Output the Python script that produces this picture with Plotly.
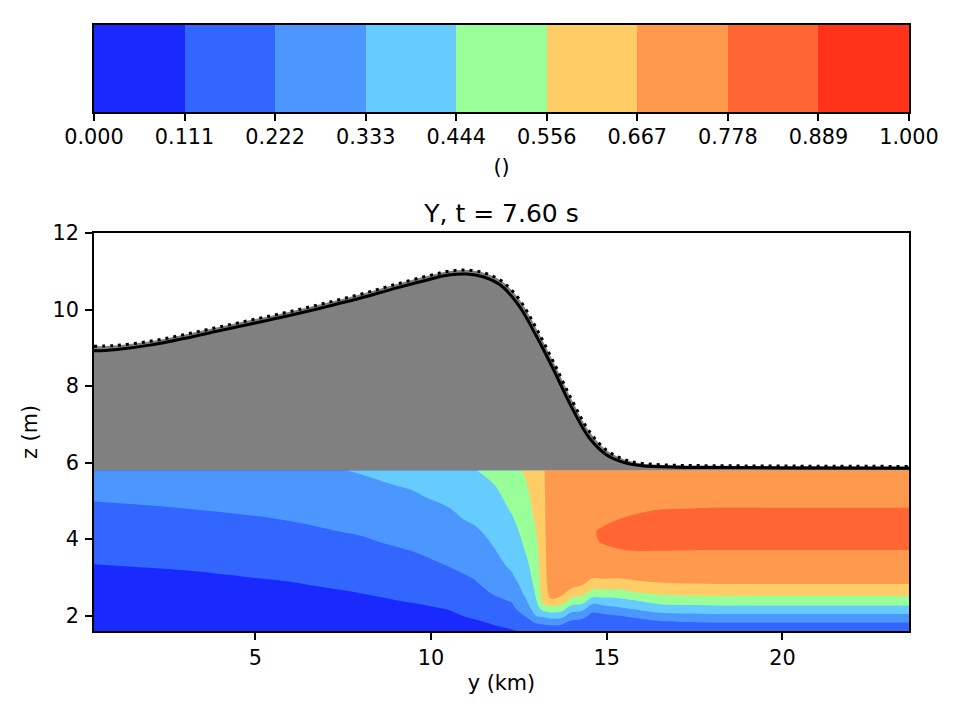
import numpy as np
import plotly.graph_objects as go

# ---------------- data ----------------
levels = [0, 1/9, 2/9, 3/9, 4/9, 5/9, 6/9, 7/9, 8/9, 1.0]
tick_text = ["0.000", "0.111", "0.222", "0.333", "0.444",
             "0.556", "0.667", "0.778", "0.889", "1.000"]
band_colors = ["#1a2aff", "#3366ff", "#4b97ff", "#66ccff", "#99ff99",
               "#ffcc66", "#ff994d", "#ff6633", "#ff331a"]
colorbar_label = "()"

# horizontal positions (km) of sampled columns of the field
grid_y = [0.41, 3, 6, 8, 9.5, 10.5, 11.2, 11.8, 12.3, 12.7, 13.0, 13.2, 13.4,
          13.7, 14.0, 14.3, 14.6, 14.9, 15.3, 15.8, 16.5, 18, 20, 23.6]
# heights (m) of sampled rows
grid_z = [1.6, 1.8, 2.0, 2.2, 2.4, 2.6, 2.8, 3.0, 3.3, 3.6, 3.9, 4.2, 4.5,
          4.8, 5.1, 5.4, 5.8]

# field values, one list per column (bottom -> top)
col_00 = [0.00, 0.01, 0.02, 0.035, 0.05, 0.06, 0.075, 0.09, 0.108, 0.128, 0.148, 0.170, 0.190, 0.210, 0.230, 0.250, 0.277]
col_01 = [0.00, 0.015, 0.03, 0.045, 0.06, 0.075, 0.088, 0.10, 0.118, 0.136, 0.156, 0.176, 0.200, 0.222, 0.243, 0.263, 0.29]
col_02 = [0.01, 0.03, 0.05, 0.065, 0.08, 0.093, 0.106, 0.118, 0.136, 0.156, 0.178, 0.200, 0.224, 0.248, 0.270, 0.290, 0.315]
col_03 = [0.02, 0.045, 0.065, 0.08, 0.097, 0.112, 0.125, 0.138, 0.158, 0.180, 0.206, 0.232, 0.258, 0.282, 0.302, 0.320, 0.338]
col_04 = [0.04, 0.065, 0.085, 0.10, 0.117, 0.133, 0.148, 0.163, 0.188, 0.215, 0.245, 0.272, 0.295, 0.312, 0.325, 0.34, 0.37]
col_05 = [0.06, 0.08, 0.10, 0.115, 0.135, 0.155, 0.175, 0.197, 0.224, 0.25, 0.275, 0.295, 0.313, 0.331, 0.35, 0.375, 0.41]
col_06 = [0.085, 0.10, 0.12, 0.14, 0.162, 0.184, 0.205, 0.225, 0.248, 0.27, 0.292, 0.315, 0.345, 0.37, 0.392, 0.412, 0.437]
col_07 = [0.10, 0.115, 0.135, 0.165, 0.203, 0.232, 0.255, 0.275, 0.30, 0.322, 0.342, 0.362, 0.382, 0.40, 0.42, 0.442, 0.48]
col_08 = [0.105, 0.135, 0.17, 0.205, 0.23, 0.255, 0.282, 0.318, 0.35, 0.37, 0.39, 0.41, 0.433, 0.456, 0.475, 0.495, 0.52]
col_09 = [0.12, 0.17, 0.23, 0.28, 0.325, 0.36, 0.38, 0.395, 0.418, 0.444, 0.462, 0.48, 0.497, 0.515, 0.53, 0.547, 0.57]
col_10 = [0.15, 0.225, 0.34, 0.40, 0.444, 0.46, 0.475, 0.49, 0.505, 0.522, 0.54, 0.557, 0.573, 0.587, 0.60, 0.61, 0.625]
col_11 = [0.16, 0.232, 0.355, 0.50, 0.60, 0.62, 0.63, 0.635, 0.638, 0.64, 0.642, 0.644, 0.646, 0.648, 0.65, 0.652, 0.655]
col_12 = [0.16, 0.245, 0.39, 0.52, 0.66, 0.69, 0.70, 0.705, 0.71, 0.715, 0.72, 0.722, 0.724, 0.725, 0.726, 0.727, 0.728]
col_13 = [0.16, 0.24, 0.38, 0.50, 0.62, 0.70, 0.72, 0.73, 0.735, 0.74, 0.745, 0.748, 0.748, 0.745, 0.74, 0.735, 0.73]
col_14 = [0.13, 0.19, 0.28, 0.40, 0.52, 0.62, 0.70, 0.735, 0.75, 0.76, 0.765, 0.768, 0.765, 0.76, 0.75, 0.74, 0.73]
col_15 = [0.14, 0.17, 0.26, 0.38, 0.50, 0.59, 0.667, 0.72, 0.755, 0.77, 0.775, 0.775, 0.772, 0.765, 0.755, 0.745, 0.735]
col_16 = [0.12, 0.135, 0.19, 0.27, 0.39, 0.52, 0.60, 0.675, 0.735, 0.765, 0.776, 0.776, 0.77, 0.762, 0.752, 0.743, 0.735]
col_17 = [0.12, 0.14, 0.20, 0.30, 0.40, 0.52, 0.60, 0.68, 0.74, 0.77, 0.7785, 0.781, 0.774, 0.765, 0.752, 0.743, 0.735]
col_18 = [0.12, 0.15, 0.22, 0.32, 0.41, 0.52, 0.60, 0.675, 0.74, 0.77, 0.785, 0.79, 0.778, 0.765, 0.752, 0.743, 0.735]
col_19 = [0.12, 0.16, 0.25, 0.355, 0.444, 0.55, 0.625, 0.69, 0.745, 0.772, 0.79, 0.795, 0.785, 0.77, 0.755, 0.745, 0.735]
col_20 = [0.125, 0.19, 0.29, 0.40, 0.49, 0.575, 0.65, 0.70, 0.745, 0.772, 0.79, 0.80, 0.795, 0.776, 0.76, 0.748, 0.738]
col_21 = [0.13, 0.21, 0.31, 0.41, 0.51, 0.59, 0.66, 0.705, 0.745, 0.77, 0.79, 0.80, 0.795, 0.779, 0.762, 0.75, 0.74]
col_22 = [0.13, 0.21, 0.31, 0.41, 0.51, 0.59, 0.66, 0.705, 0.745, 0.77, 0.79, 0.80, 0.795, 0.779, 0.762, 0.75, 0.74]
col_23 = [0.13, 0.21, 0.31, 0.41, 0.51, 0.59, 0.66, 0.705, 0.745, 0.77, 0.79, 0.80, 0.795, 0.779, 0.762, 0.75, 0.74]
columns = [col_00, col_01, col_02, col_03, col_04, col_05, col_06, col_07,
           col_08, col_09, col_10, col_11, col_12, col_13, col_14, col_15,
           col_16, col_17, col_18, col_19, col_20, col_21, col_22, col_23]

# surface profile
surf_y = [0.41, 1, 2, 3, 4, 5, 6, 7, 8, 9, 10, 10.5, 11, 11.5, 12, 12.5, 13,
          13.5, 14, 14.5, 15, 15.5, 16, 17, 18, 20, 23.6]
surf_solid = [8.92, 8.95, 9.07, 9.25, 9.45, 9.65, 9.85, 10.07, 10.3, 10.56,
              10.80, 10.9, 10.93, 10.85, 10.62, 10.1, 9.3, 8.4, 7.45, 6.65,
              6.2, 6.0, 5.92, 5.88, 5.87, 5.86, 5.85]
surf_dotted = [9.04, 9.06, 9.17, 9.35, 9.55, 9.75, 9.95, 10.17, 10.4, 10.66,
               10.9, 11.0, 11.03, 10.96, 10.75, 10.28, 9.5, 8.6, 7.65, 6.82,
               6.32, 6.08, 5.98, 5.93, 5.92, 5.91, 5.9]
interface_z = 5.8

x_ticks = [5, 10, 15, 20]
z_ticks = [2, 4, 6, 8, 10, 12]

# ---------------- figure ----------------
FONT = "DejaVu Sans"
FS = 20.8
W, H = 961, 719
m_l, m_r, m_t, m_b = 94, 52, 25, 88
plot_h = H - m_t - m_b
main_top_px, cbar_bottom_px = 233, 112
main_domain = [0, (H - m_b - main_top_px) / plot_h]
cbar_domain = [(H - m_b - cbar_bottom_px) / plot_h, 1]

field = np.array(columns).T

# colorscale used by contour fills (band k sampled inside its own step)
fill_scale = []
for k, c in enumerate(band_colors):
    lo = 0.0 if k == 0 else 0.125 + 0.1 * (k - 1)
    hi = 1.0 if k == len(band_colors) - 1 else 0.125 + 0.1 * k
    fill_scale += [[lo, c], [hi, c]]

# stepwise colorscale for the colour bar
n = len(band_colors)
bar_scale = []
for k, c in enumerate(band_colors):
    bar_scale += [[k / n, c], [(k + 1) / n, c]]
band_mids = [(levels[k] + levels[k + 1]) / 2 for k in range(n)]

fig = go.Figure()
fig.add_trace(go.Contour(
    x=grid_y, y=grid_z, z=field,
    contours=dict(start=levels[0], end=levels[-1], size=levels[1] - levels[0],
                  coloring="fill", showlines=False),
    colorscale=fill_scale, showscale=False,
    line=dict(width=0, smoothing=1.0), hoverinfo="skip",
    xaxis="x", yaxis="y"))

fig.add_trace(go.Scatter(x=surf_y, y=[interface_z] * len(surf_y), mode="lines",
                         line=dict(width=0, color="gray"), showlegend=False,
                         hoverinfo="skip", xaxis="x", yaxis="y"))
fig.add_trace(go.Scatter(x=surf_y, y=surf_dotted, mode="lines",
                         fill="tonexty", fillcolor="#808080",
                         line=dict(color="black", width=3, dash="3px,5px",
                                   shape="spline"),
                         showlegend=False, xaxis="x", yaxis="y"))
fig.add_trace(go.Scatter(x=surf_y, y=surf_solid, mode="lines",
                         line=dict(color="black", width=3, shape="spline"),
                         showlegend=False, xaxis="x", yaxis="y"))

# colour bar drawn as a one-row heatmap on its own axes
fig.add_trace(go.Heatmap(x=levels, y=[0, 1], z=[band_mids],
                         colorscale=bar_scale, zmin=0, zmax=1,
                         showscale=False, hoverinfo="skip",
                         xaxis="x2", yaxis="y2"))

line_style = dict(showline=True, linecolor="black", linewidth=1.6, mirror=True,
                  showgrid=False, zeroline=False)
tick_style = dict(ticks="outside", ticklen=7, tickwidth=1.6, tickcolor="black",
                  tickfont=dict(family=FONT, size=FS, color="black"))

fig.update_layout(
    width=W, height=H,
    margin=dict(l=m_l, r=m_r, t=m_t, b=m_b),
    paper_bgcolor="white", plot_bgcolor="white",
    showlegend=False,
    title=dict(text="Y, t = 7.60 s", x=0.5, xref="paper", xanchor="center",
               y=1 - 213 / H, yref="container", yanchor="middle",
               font=dict(family=FONT, size=25, color="black")),
    xaxis=dict(domain=[0, 1], anchor="y", range=[0.41, 23.6], tickvals=x_ticks,
               ticklabelstandoff=0,
               title=dict(text="y (km)", standoff=7,
                          font=dict(family=FONT, size=FS, color="black")),
               **line_style, **tick_style),
    yaxis=dict(domain=main_domain, anchor="x", range=[1.6, 12], tickvals=z_ticks,
               ticklabelstandoff=2,
               title=dict(text="z (m)", standoff=9,
                          font=dict(family=FONT, size=FS, color="black")),
               **line_style, **tick_style),
    xaxis2=dict(domain=[0, 1], anchor="y2", range=[0, 1], tickvals=levels,
                ticktext=tick_text, ticklabelstandoff=-2,
                title=dict(text=colorbar_label, standoff=12,
                           font=dict(family=FONT, size=FS, color="black")),
                **line_style, **tick_style),
    yaxis2=dict(domain=cbar_domain, anchor="x2", range=[0, 1],
                showticklabels=False, ticks="", **line_style),
)

fig.write_html("out.html")
